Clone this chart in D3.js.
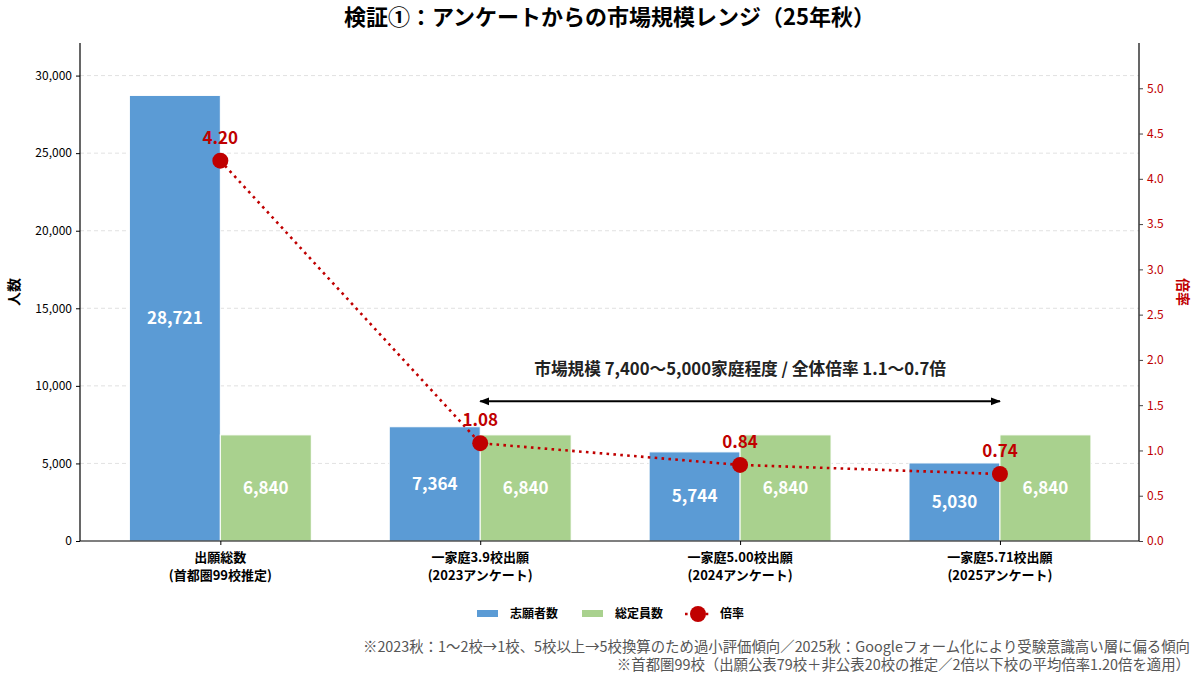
<!DOCTYPE html>
<html><head><meta charset="utf-8">
<script src="https://cdn.jsdelivr.net/npm/d3@7/dist/d3.min.js"></script>
<style>
body{margin:0;background:#fff;}
text{font-family:"Noto Sans CJK JP","Noto Sans",sans-serif;}
</style></head>
<body><svg id="c" width="1200" height="681"></svg>
<script>
const categories = [["出願総数","(首都圏99校推定)"],["一家庭3.9校出願","(2023アンケート)"],["一家庭5.00校出願","(2024アンケート)"],["一家庭5.71校出願","(2025アンケート)"]];
const applicants = [28721, 7364, 5744, 5030];
const capacity = [6840, 6840, 6840, 6840];
const ratio = [4.20, 1.08, 0.84, 0.74];
const leftTicks = [0,5000,10000,15000,20000,25000,30000];
const rightTicks = [0,0.5,1,1.5,2,2.5,3,3.5,4,4.5,5];
const seriesNames = ["志願者数","総定員数","倍率"];
const titleText = "検証①：アンケートからの市場規模レンジ（25年秋）";
const annotationText = "市場規模 7,400〜5,000家庭程度 / 全体倍率 1.1〜0.7倍";
const notes = ["※2023秋：1〜2校→1校、5校以上→5校換算のため過小評価傾向／2025秋：Googleフォーム化により受験意識高い層に偏る傾向","※首都圏99校（出願公表79校＋非公表20校の推定／2倍以下校の平均倍率1.20倍を適用）"];

const BLUE="#5B9BD5", GREEN="#A9D18E", RED="#C00000";
const svg = d3.select("#c");
const L=80,R=1139,T=43,B=541;
const CX=(L+R)/2;
const x = d3.scaleLinear().domain([-0.54,3.535]).range([L,R]);
const y = d3.scaleLinear().domain([0,32100]).range([B,T]);
const y2 = d3.scaleLinear().domain([0,5.5]).range([B,T]);
const bw = 0.35;

// grid
svg.append("g").selectAll("line").data(leftTicks.slice(1)).join("line")
  .attr("x1",L).attr("x2",R).attr("y1",d=>y(d)).attr("y2",d=>y(d))
  .attr("stroke","#d9d9d9").attr("stroke-dasharray","4,3").attr("stroke-width",0.8);

// bars
const idx = d3.range(categories.length);
svg.append("g").selectAll("rect").data(idx).join("rect")
  .attr("x",i=>x(i-bw)).attr("width",i=>x(bw)-x(0)).attr("y",i=>y(applicants[i])).attr("height",i=>B-y(applicants[i]))
  .attr("fill",BLUE).attr("stroke","#fff").attr("stroke-width",1);
svg.append("g").selectAll("rect").data(idx).join("rect")
  .attr("x",i=>x(i)).attr("width",i=>x(bw)-x(0)).attr("y",i=>y(capacity[i])).attr("height",i=>B-y(capacity[i]))
  .attr("fill",GREEN).attr("stroke","#fff").attr("stroke-width",1);

// bar labels
const fmt = d3.format(",");
svg.append("g").selectAll("text").data(idx).join("text")
  .attr("x",i=>x(i-bw/2)).attr("y",i=>(y(applicants[i])+B)/2).attr("dy","0.35em")
  .attr("text-anchor","middle").attr("fill","#fff").attr("font-weight","bold").attr("font-size",17)
  .text(i=>fmt(applicants[i]));
svg.append("g").selectAll("text").data(idx).join("text")
  .attr("x",i=>x(i+bw/2)).attr("y",i=>(y(capacity[i])+B)/2).attr("dy","0.35em")
  .attr("text-anchor","middle").attr("fill","#fff").attr("font-weight","bold").attr("font-size",17)
  .text(i=>fmt(capacity[i]));

// axes
const gl = svg.append("g").attr("transform",`translate(${L},0)`)
  .call(d3.axisLeft(y).tickValues(leftTicks).tickFormat(fmt).tickSize(4).tickPadding(4));
gl.select(".domain").attr("d",`M0,${T}V${B}`).attr("stroke","#000").attr("stroke-width",1.2);
gl.selectAll("text").attr("font-size",12).attr("fill","#000");
const gr = svg.append("g").attr("transform",`translate(${R},0)`)
  .call(d3.axisRight(y2).tickValues(rightTicks).tickFormat(d3.format(".1f")).tickSize(4).tickPadding(4));
gr.select(".domain").attr("d",`M0,${T}V${B}`).attr("stroke","#000").attr("stroke-width",1.2);
gr.selectAll("text").attr("font-size",12).attr("fill",RED);
gr.selectAll(".tick line").attr("stroke","#444");
const gb = svg.append("g").attr("transform",`translate(0,${B})`)
  .call(d3.axisBottom(x).tickValues(idx).tickFormat("").tickSize(4));
gb.select(".domain").attr("d",`M${L},0H${R}`).attr("stroke","#000").attr("stroke-width",1.2);
const xl = svg.append("g").selectAll("text").data(idx).join("text")
  .attr("x",i=>x(i)).attr("y",B+21).attr("text-anchor","middle").attr("font-size",13).attr("font-weight","bold").attr("fill","#000");
xl.append("tspan").attr("x",i=>x(i)).text(i=>categories[i][0]);
xl.append("tspan").attr("x",i=>x(i)).attr("dy",18).text(i=>categories[i][1]);

// axis labels
svg.append("text").attr("transform",`translate(19,${(T+B)/2}) rotate(-90)`).attr("text-anchor","middle")
  .attr("font-size",14).attr("font-weight","bold").text("人数");
svg.append("text").attr("transform",`translate(1178,${(T+B)/2}) rotate(90)`).attr("text-anchor","middle")
  .attr("font-size",14).attr("font-weight","bold").attr("fill",RED).text("倍率");

// annotation
svg.append("text").attr("x",x(2)).attr("y",y(11100)).attr("dy","0.35em").attr("text-anchor","middle")
  .attr("font-size",16.7).attr("font-weight","bold").attr("fill","#222").text(annotationText);
const defs = svg.append("defs");
["s","e"].forEach(k=>{
  defs.append("marker").attr("id","ah"+k).attr("viewBox","0 0 10 10").attr("refX",k==="e"?9:1).attr("refY",5)
   .attr("markerWidth",10).attr("markerHeight",10).attr("markerUnits","userSpaceOnUse").attr("orient","auto")
   .append("path").attr("d",k==="e"?"M0,1L10,5L0,9Z":"M10,1L0,5L10,9Z").attr("fill","#000");
});
svg.append("line").attr("x1",x(1)).attr("x2",x(3)).attr("y1",y(9000)).attr("y2",y(9000))
  .attr("stroke","#000").attr("stroke-width",2).attr("marker-start","url(#ahs)").attr("marker-end","url(#ahe)");

// ratio line
const line = d3.line().x((d,i)=>x(i)).y(d=>y2(d));
svg.append("path").datum(ratio).attr("d",line).attr("fill","none").attr("stroke",RED)
  .attr("stroke-width",2.6).attr("stroke-dasharray","2.6,4.3");
svg.append("g").selectAll("circle").data(ratio).join("circle")
  .attr("cx",(d,i)=>x(i)).attr("cy",d=>y2(d)).attr("r",8).attr("fill",RED);
svg.append("g").selectAll("text").data(ratio).join("text")
  .attr("x",(d,i)=>x(i)).attr("y",d=>y2(d)-17).attr("text-anchor","middle")
  .attr("font-size",17).attr("font-weight","bold").attr("fill",RED).text(d=>d.toFixed(2));

// title
svg.append("text").attr("x",CX).attr("y",25).attr("text-anchor","middle").attr("font-size",22).attr("font-weight","bold").text(titleText);

// legend
const lg = svg.append("g").attr("transform","translate(0,614)");
lg.append("rect").attr("x",477).attr("y",-4).attr("width",21).attr("height",7).attr("fill",BLUE);
lg.append("text").attr("x",510).attr("y",0).attr("dy","0.35em").attr("font-size",12).attr("font-weight","bold").text(seriesNames[0]);
lg.append("rect").attr("x",582).attr("y",-4).attr("width",21).attr("height",7).attr("fill",GREEN);
lg.append("text").attr("x",615).attr("y",0).attr("dy","0.35em").attr("font-size",12).attr("font-weight","bold").text(seriesNames[1]);
lg.append("line").attr("x1",685).attr("x2",711).attr("y1",0).attr("y2",0).attr("stroke",RED).attr("stroke-width",2.6).attr("stroke-dasharray","2.6,4.3");
lg.append("circle").attr("cx",698).attr("cy",0).attr("r",8).attr("fill",RED);
lg.append("text").attr("x",720).attr("y",0).attr("dy","0.35em").attr("font-size",12).attr("font-weight","bold").text(seriesNames[2]);

// notes
svg.append("g").selectAll("text").data(notes).join("text")
  .attr("x",1190).attr("y",(d,i)=>652+i*17.5).attr("text-anchor","end").attr("font-size",14.4).attr("fill","#555").text(d=>d);
</script></body></html>
